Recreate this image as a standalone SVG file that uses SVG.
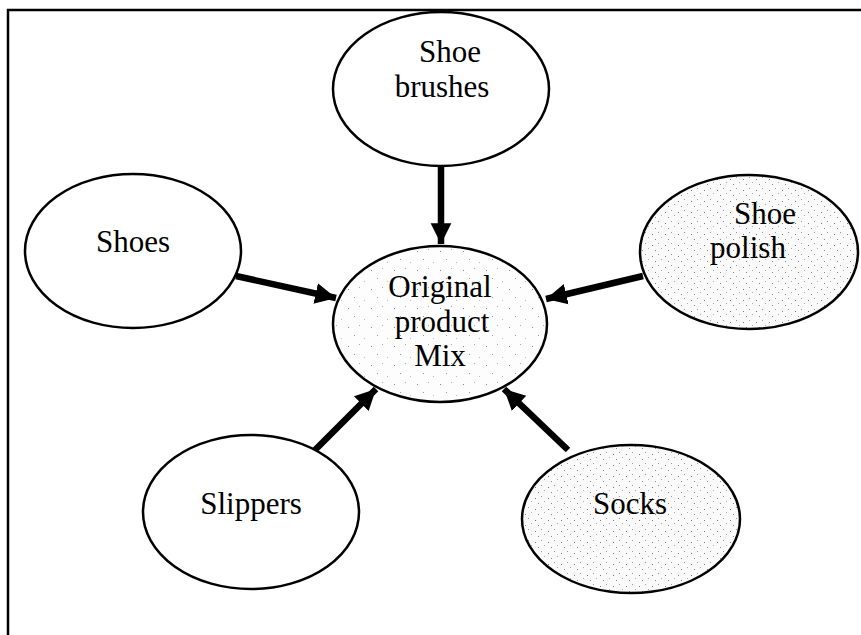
<svg xmlns="http://www.w3.org/2000/svg" width="861" height="635" viewBox="0 0 861 635">
<style>
.node ellipse{stroke:#000;stroke-width:2.5}
.plain{fill:#fff}
.stip{fill:url(#stipple)}
.stip2{fill:url(#stipple2)}
text{font-family:"Liberation Serif","Times New Roman",serif;font-size:31px;fill:#000;text-anchor:middle}
.conn line{stroke:#000;stroke-width:6.5;marker-end:url(#ah)}
</style>
<defs>
<marker id="ah" markerWidth="4" markerHeight="4" refX="3.2" refY="2" orient="auto" markerUnits="strokeWidth" viewBox="0 0 4 4">
<path d="M0,0.4 L3.2,2 L0,3.6 Z" fill="#000"/>
</marker>
<pattern id="stipple" width="23" height="19" patternUnits="userSpaceOnUse">
<rect width="23" height="19" fill="#fdfdfd"/>
<rect x="3" y="4" width="1" height="1" fill="#888"/>
<rect x="14" y="2" width="1" height="1" fill="#aaa"/>
<rect x="9" y="12" width="1" height="1" fill="#999"/>
<rect x="19" y="15" width="1" height="1" fill="#bbb"/>
</pattern>
<pattern id="stipple2" width="13" height="11" patternUnits="userSpaceOnUse">
<rect width="13" height="11" fill="#fafafa"/>
<rect x="2" y="3" width="1" height="1" fill="#777"/>
<rect x="8" y="1" width="1" height="1" fill="#999"/>
<rect x="5" y="8" width="1" height="1" fill="#888"/>
<rect x="11" y="6" width="1" height="1" fill="#aaa"/>
</pattern>
</defs>
<rect width="861" height="635" fill="#fff"/>
<path d="M8,635 V10 H861" fill="none" stroke="#000" stroke-width="2.5"/>

<g id="conns" class="conn">
<line x1="441" y1="167" x2="441" y2="244"/>
<line x1="236" y1="276" x2="336" y2="298"/>
<line x1="643" y1="276" x2="546" y2="299"/>
<line x1="315" y1="450" x2="376" y2="389"/>
<line x1="568" y1="450" x2="504" y2="389"/>
</g>

<g id="center" class="node">
<ellipse class="stip" cx="440" cy="324" rx="107" ry="78"/>
<text x="440" y="297">Original</text>
<text x="442" y="332">product</text>
<text x="440" y="366">Mix</text>
</g>
<g id="brushes" class="node">
<ellipse class="plain" cx="441" cy="89" rx="108" ry="77"/>
<text x="450" y="62">Shoe</text>
<text x="442" y="97">brushes</text>
</g>
<g id="shoes" class="node">
<ellipse class="plain" cx="133" cy="251" rx="108" ry="77"/>
<text x="133" y="252">Shoes</text>
</g>
<g id="polish" class="node">
<ellipse class="stip2" cx="749" cy="252" rx="109" ry="77"/>
<text x="765" y="224">Shoe</text>
<text x="748" y="258">polish</text>
</g>
<g id="slippers" class="node">
<ellipse class="plain" cx="251" cy="512" rx="108" ry="77"/>
<text x="251" y="514">Slippers</text>
</g>
<g id="socks" class="node">
<ellipse class="stip2" cx="631" cy="519" rx="109" ry="74"/>
<text x="630" y="514">Socks</text>
</g>
</svg>
